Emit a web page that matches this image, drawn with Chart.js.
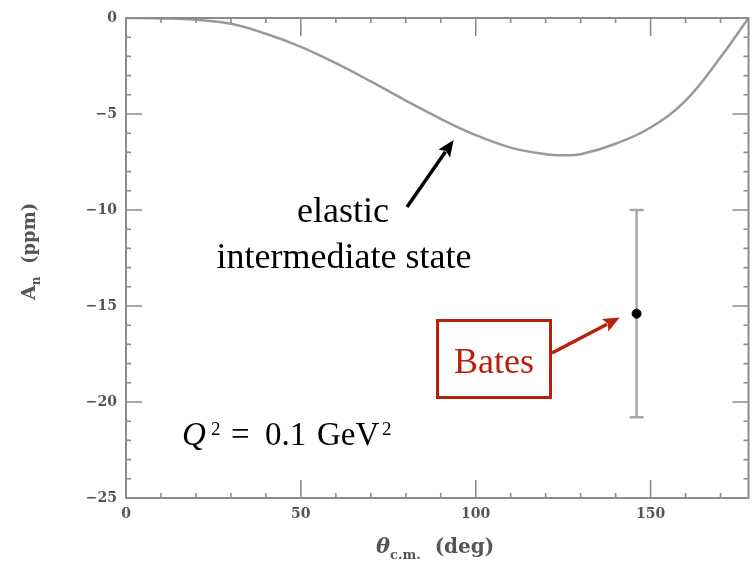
<!DOCTYPE html>
<html>
<head>
<meta charset="utf-8">
<script src="https://cdn.jsdelivr.net/npm/chart.js@4.4.1/dist/chart.umd.min.js"></script>
<style>
  html, body { margin: 0; padding: 0; background: #fff; overflow: hidden; }
  #wrap { width: 754px; height: 563px; position: relative; }
</style>
</head>
<body>
<div id="wrap"><canvas id="chart" width="754" height="563"></canvas></div>
<script>
// Elastic intermediate state curve (theta in deg, A_n in ppm)
const thetaCurve = [0, 10, 20, 30, 40, 50, 60, 70, 80, 90, 100, 110, 120, 125, 130, 140, 150, 160, 170, 178];
const anCurve = [0, -0.02, -0.09, -0.3, -0.82, -1.5, -2.35, -3.3, -4.3, -5.25, -6.1, -6.75, -7.1, -7.15, -7.1, -6.55, -5.7, -4.3, -2.05, 0];

// Bates measurement
const batesTheta = [146];
const batesAn = [-15.4];
const batesErrHigh = [-10.0];
const batesErrLow = [-20.8];

// Axis ticks
const xTickValues = [0, 50, 100, 150];
const yTickValues = [0, -5, -10, -15, -20, -25];

const frameColor = '#8c8c8c';
const labelColor = '#555555';
const red = '#b8200c';

// Frame with inward minor/major ticks on all four sides
const framePlugin = {
    id: 'frame',
    afterDraw(chart) {
        const { ctx, chartArea: a, scales: { x, y } } = chart;
        ctx.save();
        ctx.strokeStyle = frameColor;
        ctx.lineWidth = 2;
        ctx.strokeRect(a.left, a.top, a.right - a.left, a.bottom - a.top);
        ctx.lineWidth = 1.6;
        ctx.beginPath();
        for (let v = 0; v <= x.max; v += 10) {
            const px = x.getPixelForValue(v);
            const len = v % 50 === 0 ? 18 : 5;
            ctx.moveTo(px, a.bottom); ctx.lineTo(px, a.bottom - len);
            ctx.moveTo(px, a.top); ctx.lineTo(px, a.top + len);
        }
        for (let v = 0; v >= y.min; v -= 1) {
            const py = y.getPixelForValue(v);
            const len = v % 5 === 0 ? 16 : 5;
            ctx.moveTo(a.left, py); ctx.lineTo(a.left + len, py);
            ctx.moveTo(a.right, py); ctx.lineTo(a.right - len, py);
        }
        ctx.stroke();
        ctx.restore();
    }
};

// Vertical error bar for the Bates point
const errorBarPlugin = {
    id: 'errorBars',
    beforeDatasetsDraw(chart) {
        const { ctx, scales: { x, y } } = chart;
        ctx.save();
        ctx.strokeStyle = '#a8a8a8';
        ctx.lineWidth = 2.5;
        batesTheta.forEach((t, i) => {
            const px = x.getPixelForValue(t);
            const top = y.getPixelForValue(batesErrHigh[i]);
            const bot = y.getPixelForValue(batesErrLow[i]);
            ctx.beginPath();
            ctx.moveTo(px, top); ctx.lineTo(px, bot);
            ctx.moveTo(px - 7, top); ctx.lineTo(px + 7, top);
            ctx.moveTo(px - 7, bot); ctx.lineTo(px + 7, bot);
            ctx.stroke();
        });
        ctx.restore();
    }
};

function arrow(ctx, x1, y1, x2, y2, color, width, head) {
    const ang = Math.atan2(y2 - y1, x2 - x1);
    ctx.save();
    ctx.strokeStyle = color;
    ctx.fillStyle = color;
    ctx.lineWidth = width;
    ctx.beginPath();
    ctx.moveTo(x1, y1);
    ctx.lineTo(x2 - Math.cos(ang) * head * 0.8, y2 - Math.sin(ang) * head * 0.8);
    ctx.stroke();
    ctx.beginPath();
    ctx.moveTo(x2, y2);
    ctx.lineTo(x2 - head * Math.cos(ang - 0.4), y2 - head * Math.sin(ang - 0.4));
    ctx.lineTo(x2 - head * 0.75 * Math.cos(ang), y2 - head * 0.75 * Math.sin(ang));
    ctx.lineTo(x2 - head * Math.cos(ang + 0.4), y2 - head * Math.sin(ang + 0.4));
    ctx.closePath();
    ctx.fill();
    ctx.restore();
}

// Text pieces drawn left to right: [text, font, dy]
function drawRuns(ctx, x, y, runs, color) {
    ctx.fillStyle = color;
    ctx.textAlign = 'left';
    ctx.textBaseline = 'alphabetic';
    runs.forEach(([t, f, dy]) => {
        ctx.font = f;
        ctx.fillText(t, x, y + dy);
        x += ctx.measureText(t).width;
    });
}

const annotationPlugin = {
    id: 'notes',
    afterDraw(chart) {
        const { ctx, scales: { x, y } } = chart;
        ctx.save();

        // elastic intermediate state
        ctx.fillStyle = '#000';
        ctx.font = '36px "Liberation Serif"';
        ctx.textAlign = 'center';
        ctx.textBaseline = 'alphabetic';
        ctx.fillText('elastic', 343, 222);
        ctx.fillText('intermediate state', 344, 268);
        arrow(ctx, 407, 207, x.getPixelForValue(93.7), y.getPixelForValue(-6.35), '#000', 3.5, 18);

        // Bates box
        ctx.strokeStyle = red;
        ctx.lineWidth = 3;
        ctx.strokeRect(437.5, 320.5, 113, 77);
        ctx.fillStyle = red;
        ctx.font = '36px "Liberation Serif"';
        ctx.textAlign = 'center';
        ctx.fillText('Bates', 494, 373);
        arrow(ctx, 552, 353, x.getPixelForValue(141.2), y.getPixelForValue(-15.6), red, 3.5, 18);

        // Q^2 label, LaTeX-like spacing
        ctx.fillStyle = '#000';
        ctx.textAlign = 'left';
        ctx.font = 'italic 33px "Liberation Serif"';
        ctx.fillText('Q', 182, 445);
        ctx.font = '19px "Liberation Serif"';
        ctx.fillText('2', 211, 435);
        ctx.font = '33px "Liberation Serif"';
        ctx.fillText('=', 231, 445);
        ctx.fillText('0.1', 265, 445);
        ctx.fillText('GeV', 317, 445);
        ctx.font = '19px "Liberation Serif"';
        ctx.fillText('2', 382, 435);

        // x axis title
        drawRuns(ctx, 376, 553, [
            ['θ', 'italic bold 21px "DejaVu Serif"', 0],
            ['c.m.', 'bold 13px "DejaVu Serif"', 6],
            ['  (deg)', 'bold 20px "DejaVu Serif"', 0]
        ], labelColor);

        // y axis title (rotated)
        ctx.translate(35, 300);
        ctx.rotate(-Math.PI / 2);
        drawRuns(ctx, 0, 0, [
            ['A', 'bold 19px "DejaVu Serif"', 0],
            ['n', 'bold 12px "DejaVu Serif"', 5],
            ['  (ppm)', 'bold 18px "DejaVu Serif"', 0]
        ], labelColor);

        ctx.restore();
    }
};

new Chart(document.getElementById('chart'), {
    data: {
        datasets: [
            {
                type: 'line',
                label: 'elastic intermediate state',
                data: thetaCurve.map((t, i) => ({ x: t, y: anCurve[i] })),
                borderColor: '#9a9a9a',
                borderWidth: 2.5,
                pointRadius: 0,
                tension: 0.4,
                fill: false
            },
            {
                type: 'scatter',
                label: 'Bates',
                data: batesTheta.map((t, i) => ({ x: t, y: batesAn[i] })),
                backgroundColor: '#000',
                borderColor: '#000',
                pointRadius: 4.5
            }
        ]
    },
    options: {
        responsive: false,
        animation: false,
        layout: { padding: { top: 18, right: 2, left: 0, bottom: 0 } },
        plugins: { legend: { display: false }, tooltip: { enabled: false } },
        scales: {
            x: {
                type: 'linear',
                min: 0,
                max: 178,
                grid: { display: false, drawTicks: false },
                border: { display: false },
                afterBuildTicks: s => { s.ticks = xTickValues.map(v => ({ value: v })); },
                afterFit: s => { s.height = 65; },
                ticks: {
                    padding: 8,
                    color: labelColor,
                    font: { family: 'DejaVu Serif', size: 14, weight: 'bold' },
                    maxRotation: 0
                }
            },
            y: {
                type: 'linear',
                min: -25,
                max: 0,
                grid: { display: false, drawTicks: false },
                border: { display: false },
                afterBuildTicks: s => { s.ticks = yTickValues.map(v => ({ value: v })); },
                afterFit: s => { s.width = 126; },
                ticks: {
                    padding: 9,
                    color: labelColor,
                    font: { family: 'DejaVu Serif', size: 14, weight: 'bold' },
                    callback: v => (v < 0 ? '\u2212' + Math.abs(v) : String(v))
                }
            }
        }
    },
    plugins: [framePlugin, errorBarPlugin, annotationPlugin]
});
</script>
</body>
</html>
